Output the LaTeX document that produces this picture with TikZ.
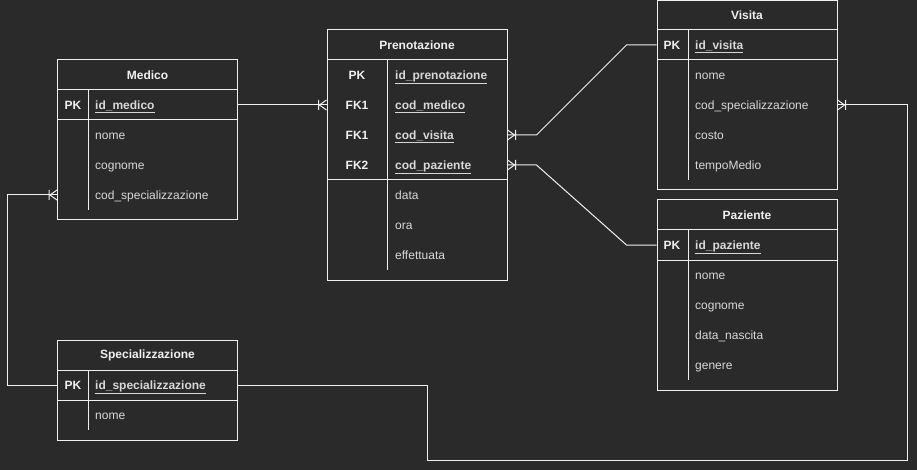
\documentclass[tikz,border=0pt]{standalone}
\usepackage{fontspec}
\setmainfont{Liberation Sans}
\usetikzlibrary{positioning}
\usetikzlibrary{backgrounds}

\definecolor{bgdark}{HTML}{2A2A2A}
\definecolor{linewhite}{HTML}{F0F0F0}
\definecolor{fieldgray}{HTML}{D8D8D8}

% crow's foot (one or many)
\pgfdeclarearrow{
  name = Crow,
  setup code = {
    \pgfarrowssettipend{0pt}
    \pgfarrowssetlineend{0pt}
    \pgfarrowssetbackend{-9pt}
    \pgfarrowshullpoint{0pt}{5pt}
    \pgfarrowshullpoint{0pt}{-5pt}
    \pgfarrowshullpoint{-9pt}{5pt}
    \pgfarrowshullpoint{-9pt}{-5pt}
  },
  drawing code = {
    \pgfpathmoveto{\pgfqpoint{0pt}{5pt}}
    \pgfpathlineto{\pgfqpoint{-7pt}{0pt}}
    \pgfpathlineto{\pgfqpoint{0pt}{-5pt}}
    \pgfpathmoveto{\pgfqpoint{-8pt}{5pt}}
    \pgfpathlineto{\pgfqpoint{-8pt}{-5pt}}
    \pgfusepathqstroke
  }
}

\tikzset{
  entity/.style={draw=linewhite, line width=1pt, minimum width=180pt, inner sep=0pt},
  title/.style={text=linewhite, inner sep=0pt, font=\fontsize{12}{14}\selectfont\bfseries},
  keylabel/.style={text=linewhite, inner sep=0pt, text height=8.6pt, text depth=0pt, font=\fontsize{12}{14}\selectfont\bfseries},
  keyfield/.style={anchor=west, text=fieldgray, inner sep=0pt, text height=8.6pt, text depth=0pt, font=\fontsize{12}{14}\selectfont\bfseries},
  field/.style={anchor=west, text=fieldgray, inner sep=0pt, text height=8.6pt, text depth=0pt, font=\fontsize{12}{14}\selectfont},
  rowline/.style={draw=linewhite, line width=1pt},
  link/.style={draw=linewhite, line width=1pt},
  many/.style={-Crow}
}

\begin{document}
\begin{tikzpicture}[x=1pt, y=-1pt]
	\useasboundingbox (0,0) rectangle (917,470);
	\fill[bgdark] (0,0) rectangle (917,470);

	%Medico
	\node (medico) at (147.5,140) [entity, minimum height=160pt] {};
	\node (medicotitle) at (147.5,75) [title] {Medico};
	\draw[rowline] (medico.west |- 0,90) -- (medico.east |- 0,90);
	\draw[rowline] (medico.west |- 0,120) -- (medico.east |- 0,120);
	\draw[rowline] (88,90) -- (88,210);
	\node (medicopk) at (73,105) [keylabel] {PK};
	\node (medicoid) at (95,105) [keyfield] {\underline{id\_medico}};
	\node (mediconome) at (95,135) [field] {nome};
	\node (medicocognome) at (95,165) [field] {cognome};
	\node (medicocodspec) at (95,195) [field] {cod\_specializzazione};

	%Prenotazione
	\node (pren) at (417,155) [entity, minimum height=250pt] {};
	\node (prentitle) at (417,45) [title] {Prenotazione};
	\draw[rowline] (pren.west |- 0,60) -- (pren.east |- 0,60);
	\draw[rowline] (pren.west |- 0,180) -- (pren.east |- 0,180);
	\draw[rowline] (387,60) -- (387,270);
	\node (prenpk) at (357,75) [keylabel] {PK};
	\node (prenfkmedico) at (357,105) [keylabel] {FK1};
	\node (prenfkvisita) at (357,135) [keylabel] {FK1};
	\node (prenfkpaz) at (357,165) [keylabel] {FK2};
	\node (prenid) at (395,75) [keyfield] {\underline{id\_prenotazione}};
	\node (prencodmedico) at (395,105) [keyfield] {\underline{cod\_medico}};
	\node (prencodvisita) at (395,135) [keyfield] {\underline{cod\_visita}};
	\node (prencodpaz) at (395,165) [keyfield] {\underline{cod\_paziente}};
	\node (prendata) at (395,195) [field] {data};
	\node (prenora) at (395,225) [field] {ora};
	\node (preneff) at (395,255) [field] {effettuata};

	%Visita
	\node (visita) at (747,95.5) [entity, minimum height=189pt] {};
	\node (visitatitle) at (747,15) [title] {Visita};
	\draw[rowline] (visita.west |- 0,30) -- (visita.east |- 0,30);
	\draw[rowline] (visita.west |- 0,60) -- (visita.east |- 0,60);
	\draw[rowline] (688,30) -- (688,180);
	\node (visitapk) at (672,45) [keylabel] {PK};
	\node (visitaid) at (695,45) [keyfield] {\underline{id\_visita}};
	\node (visitanome) at (695,75) [field] {nome};
	\node (visitacodspec) at (695,105) [field] {cod\_specializzazione};
	\node (visitacosto) at (695,135) [field] {costo};
	\node (visitatempo) at (695,165) [field] {tempoMedio};

	%Paziente
	\node (paz) at (747,295) [entity, minimum height=190pt] {};
	\node (paztitle) at (747,215) [title] {Paziente};
	\draw[rowline] (paz.west |- 0,230) -- (paz.east |- 0,230);
	\draw[rowline] (paz.west |- 0,260) -- (paz.east |- 0,260);
	\draw[rowline] (688,230) -- (688,380);
	\node (pazpk) at (672,245) [keylabel] {PK};
	\node (pazid) at (695,245) [keyfield] {\underline{id\_paziente}};
	\node (paznome) at (695,275) [field] {nome};
	\node (pazcognome) at (695,305) [field] {cognome};
	\node (paznascita) at (695,335) [field] {data\_nascita};
	\node (pazgenere) at (695,365) [field] {genere};

	%Specializzazione
	\node (spec) at (147.5,390) [entity, minimum height=100pt] {};
	\node (spectitle) at (147.5,355) [title] {Specializzazione};
	\draw[rowline] (spec.west |- 0,370) -- (spec.east |- 0,370);
	\draw[rowline] (spec.west |- 0,400) -- (spec.east |- 0,400);
	\draw[rowline] (88,370) -- (88,430);
	\node (specpk) at (73,385) [keylabel] {PK};
	\node (specid) at (95,385) [keyfield] {\underline{id\_specializzazione}};
	\node (specnome) at (95,415) [field] {nome};

	%links
	\coordinate (leftbend) at (7,0);
	\coordinate (lowbend) at (427,460);
	\coordinate (rightbend) at (907,460);
	\draw[link, many] (medico.east |- medicoid) -- (pren.west |- prencodmedico);
	\draw[link, many] (spec.west |- specid) -| (leftbend |- medicocodspec) -- (medico.west |- medicocodspec);
	\draw[link, many] (spec.east |- specid) -| (lowbend) -| (rightbend |- visitacodspec) -- (visita.east |- visitacodspec);
	\draw[link, many] (visita.west |- visitaid) -- ++(-30,0) -- ++(-90,90) -- (pren.east |- prencodvisita);
	\draw[link, many] (paz.west |- pazid) -- ++(-30,0) -- ++(-90,-80) -- (pren.east |- prencodpaz);
\end{tikzpicture}
\end{document}
